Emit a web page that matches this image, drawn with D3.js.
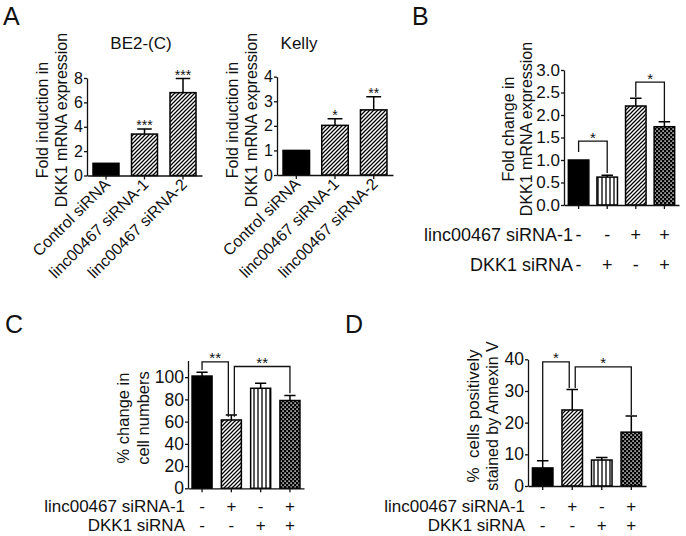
<!DOCTYPE html>
<html><head><meta charset="utf-8">
<script src="https://cdn.jsdelivr.net/npm/d3@7"></script>
<style>
html,body{margin:0;padding:0;background:#fff;}
svg{display:block;}
text{font-family:'Liberation Sans', Arial, Helvetica, sans-serif; fill:#111;}
</style></head><body>
<svg id="chart" width="686" height="536"></svg>
<script>
// ---------- data ----------
const aCategories = ["Control siRNA", "linc00467 siRNA-1", "linc00467 siRNA-2"];
const be2Values = [1.0, 3.4, 6.8];
const be2Errors = [0, 0.42, 1.15];
const be2Stars = ["", "***", "***"];
const be2Ticks = [0, 2, 4, 6, 8];

const kellyValues = [1.0, 2.02, 2.65];
const kellyErrors = [0, 0.27, 0.53];
const kellyStars = ["", "*", "**"];
const kellyTicks = [0, 1, 2, 3, 4];
const aFills = ["solid", "diagonal", "diagonal"];

const bValues = [1.0, 0.62, 2.2, 1.74];
const bErrors = [0, 0.04, 0.17, 0.11];
const bTicks = [0, 0.5, 1, 1.5, 2, 2.5, 3];
const bLinc = ["-", "-", "+", "+"];
const bDkk1 = ["-", "+", "-", "+"];
const bFills = ["solid", "vertical", "diagonal", "dotted"];
// [from, to, bracket level, left leg end, right leg end, label]
const bBrackets = [[0, 1, 1.42, 1.18, 0.71, "*"], [2, 3, 2.73, 2.40, 1.85, "*"]];

const cValues = [101, 61.5, 90, 79];
const cErrors = [3.5, 4.5, 4.5, 4.5];
const cTicks = [0, 20, 40, 60, 80, 100];
const cdLinc = ["-", "+", "-", "+"];
const cdDkk1 = ["-", "-", "+", "+"];
const cdFills = ["solid", "diagonal", "vertical", "dotted"];
const cBrackets = [[0, 1, 113.7, 106.5, 64.4, "**"], [1, 3, 109.6, 64.4, 85.5, "**"]];

const dValues = [5.7, 24, 8.2, 17];
const dErrors = [2.3, 6.5, 0.8, 5.1];
const dTicks = [0, 10, 20, 30, 40];
const dBrackets = [[0, 1, 39.2, 8.2, 30.9, "*"], [1, 3, 37.6, 30.9, 22.4, "*"]];

// ---------- setup ----------
const svg = d3.select("#chart");
const FONT = "'Liberation Sans', Arial, Helvetica, sans-serif";
const INK = "#111";
const defs = svg.append("defs");

const pDiag = defs.append("pattern").attr("id", "diagonal").attr("patternUnits", "userSpaceOnUse")
  .attr("width", 4).attr("height", 4);
pDiag.append("rect").attr("width", 4).attr("height", 4).attr("fill", "#fff");
pDiag.append("path").attr("d", "M-1,1 l2,-2 M0,4 l4,-4 M3,5 l2,-2")
  .attr("stroke", "#000").attr("stroke-width", 1.25);

const pVert = defs.append("pattern").attr("id", "vertical").attr("patternUnits", "userSpaceOnUse")
  .attr("width", 4).attr("height", 4);
pVert.append("rect").attr("width", 4).attr("height", 4).attr("fill", "#fff");
pVert.append("path").attr("d", "M2,0 V4").attr("stroke", "#000").attr("stroke-width", 1.3);

const pDot = defs.append("pattern").attr("id", "dotted").attr("patternUnits", "userSpaceOnUse")
  .attr("width", 4).attr("height", 4);
pDot.append("rect").attr("width", 4).attr("height", 4).attr("fill", "#000");
pDot.append("rect").attr("x", 0.4).attr("y", 0.4).attr("width", 1.4).attr("height", 1.4).attr("fill", "#fff");
pDot.append("rect").attr("x", 2.4).attr("y", 2.4).attr("width", 1.4).attr("height", 1.4).attr("fill", "#fff");

function fillFor(k) { return k === "solid" ? "#000" : `url(#${k})`; }

function panel(cfg) {
  const g = svg.append("g");
  const n = cfg.values.length;
  const x = d3.scaleBand().domain(d3.range(n)).range([cfg.x0, cfg.x1])
    .paddingInner(cfg.pi).paddingOuter(cfg.po);
  const y = d3.scaleLinear().domain([0, cfg.max]).range([cfg.yb, cfg.yt]);
  const cx = i => x(i) + x.bandwidth() / 2;

  // error bars (upper only)
  const eg = g.append("g").attr("stroke", "#000").attr("stroke-width", 1.5);
  cfg.values.forEach((v, i) => {
    const e = cfg.errors[i];
    if (!e) return;
    const cw = x.bandwidth() * 0.28;
    eg.append("path").attr("fill", "none")
      .attr("d", `M${cx(i)},${y(v)}V${y(v + e)}M${cx(i) - cw},${y(v + e)}H${cx(i) + cw}`);
  });

  // bars
  g.selectAll("rect.bar").data(cfg.values).join("rect").attr("class", "bar")
    .attr("x", (d, i) => x(i)).attr("y", d => y(d))
    .attr("width", x.bandwidth()).attr("height", d => y(0) - y(d))
    .attr("fill", (d, i) => fillFor(cfg.fills[i]))
    .attr("stroke", "#000").attr("stroke-width", 1.5);

  // y axis
  const ya = g.append("g").attr("transform", `translate(${cfg.x0},0)`)
    .call(d3.axisLeft(y).tickValues(cfg.ticks).tickSize(3).tickSizeOuter(0).tickPadding(1)
      .tickFormat(cfg.fmt || d3.format("d")));
  ya.attr("font-size", cfg.tickSize).attr("font-family", FONT);
  ya.selectAll("text").attr("fill", INK);
  ya.selectAll("path,line").attr("stroke", INK).attr("stroke-width", 1.3);

  // x axis
  const xa = g.append("g").attr("transform", `translate(0,${cfg.yb})`)
    .call(d3.axisBottom(x).tickSize(4).tickSizeOuter(0).tickFormat(""));
  xa.selectAll("path,line").attr("stroke", INK).attr("stroke-width", 1.3);

  // stars over bars
  if (cfg.stars) {
    cfg.stars.forEach((s, i) => {
      if (!s) return;
      g.append("text").attr("x", cx(i)).attr("y", y(cfg.values[i] + cfg.errors[i]) + 1)
        .attr("text-anchor", "middle").attr("font-size", 14).text(s);
    });
  }

  // brackets
  if (cfg.brackets) {
    const used = {};
    cfg.brackets.forEach(b => { used[b[0]] = (used[b[0]] || 0) + 1; used[b[1]] = (used[b[1]] || 0) + 1; });
    cfg.brackets.forEach(b => {
      const xl = cx(b[0]) + (used[b[0]] > 1 ? 3 : 0);
      const xr = cx(b[1]) - (used[b[1]] > 1 ? 3 : 0);
      g.append("path").attr("fill", "none").attr("stroke", INK).attr("stroke-width", 1.3)
        .attr("d", `M${xl},${y(b[3])}V${y(b[2])}H${xr}V${y(b[4])}`);
      g.append("text").attr("x", (xl + xr) / 2).attr("y", y(b[2]) + 1.5)
        .attr("text-anchor", "middle").attr("font-size", 15).text(b[5]);
    });
  }

  // rotated category labels
  if (cfg.cats) {
    cfg.cats.forEach((c, i) => {
      g.append("text").attr("transform", `translate(${cx(i) + 5},${cfg.yb + 10}) rotate(-45)`)
        .attr("text-anchor", "end").attr("font-size", cfg.catSize).text(c);
    });
  }

  // condition rows
  if (cfg.rows) {
    cfg.rows.forEach((r, k) => {
      g.append("text").attr("x", cfg.rowLabelX).attr("y", r.y).attr("dy", "0.35em")
        .attr("text-anchor", "end").attr("font-size", cfg.rowSize).text(r.label);
      r.signs.forEach((s, i) => {
        g.append("text").attr("x", cx(i)).attr("y", r.y).attr("dy", "0.35em")
          .attr("text-anchor", "middle").attr("font-size", cfg.rowSize).text(s);
      });
    });
  }

  // y label (two lines, rotated)
  cfg.ylab.forEach((t, k) => {
    g.append("text").attr("transform", `translate(${cfg.ylabX[k]},${cfg.ylabY}) rotate(-90)`)
      .attr("text-anchor", "middle").attr("dy", "0.35em")
      .attr("font-size", Array.isArray(cfg.ylabSize) ? cfg.ylabSize[k] : cfg.ylabSize)
      .attr("xml:space", "preserve").style("white-space", "pre").text(t);
  });

  if (cfg.title) {
    g.append("text").attr("x", cfg.title[1]).attr("y", cfg.title[2]).attr("text-anchor", "middle")
      .attr("font-size", 17).text(cfg.title[0]);
  }
}

// Panel A - BE2-(C)
panel({x0: 87, x1: 202, yb: 175.5, yt: 78, max: 8, pi: 0.325, po: 0.156,
  values: be2Values, errors: be2Errors, fills: aFills, ticks: be2Ticks, tickSize: 16,
  stars: be2Stars, cats: aCategories, catSize: 16,
  ylab: ["Fold induction in", "DKK1 mRNA expression"], ylabX: [42, 61], ylabY: 120, ylabSize: 16,
  title: ["BE2-(C)", 141, 49]});

// Panel A - Kelly
panel({x0: 277, x1: 393, yb: 175, yt: 76.7, max: 4, pi: 0.315, po: 0.156,
  values: kellyValues, errors: kellyErrors, fills: aFills, ticks: kellyTicks, tickSize: 16,
  stars: kellyStars, cats: aCategories, catSize: 16,
  ylab: ["Fold induction in", "DKK1 mRNA expression"], ylabX: [232, 251], ylabY: 120, ylabSize: 16,
  title: ["Kelly", 299, 49]});

// Panel B
panel({x0: 564, x1: 679, yb: 205, yt: 70, max: 3, pi: 0.283, po: 0.152,
  values: bValues, errors: bErrors, fills: bFills, ticks: bTicks, tickSize: 17, fmt: d3.format(".1f"),
  brackets: bBrackets,
  rows: [{label: "linc00467 siRNA-1", y: 235, signs: bLinc}, {label: "DKK1 siRNA", y: 265, signs: bDkk1}],
  rowLabelX: 573, rowSize: 18,
  ylab: ["Fold change in", "DKK1 mRNA expression"], ylabX: [508, 526], ylabY: 129, ylabSize: 16});

// Panel C
panel({x0: 188, x1: 304, yb: 488.3, yt: 360.5, max: 115, pi: 0.317, po: 0.138,
  values: cValues, errors: cErrors, fills: cdFills, ticks: cTicks, tickSize: 17.5,
  brackets: cBrackets,
  rows: [{label: "linc00467 siRNA-1", y: 506, signs: cdLinc}, {label: "DKK1 siRNA", y: 525.5, signs: cdDkk1}],
  rowLabelX: 185, rowSize: 17,
  ylab: ["% change in", "cell numbers"], ylabX: [123, 143], ylabY: 418, ylabSize: 16.5});

// Panel D
panel({x0: 528, x1: 646, yb: 486, yt: 359.3, max: 40, pi: 0.305, po: 0.15,
  values: dValues, errors: dErrors, fills: cdFills, ticks: dTicks, tickSize: 17.5,
  brackets: dBrackets,
  rows: [{label: "linc00467 siRNA-1", y: 506, signs: cdLinc}, {label: "DKK1 siRNA", y: 525.5, signs: cdDkk1}],
  rowLabelX: 525, rowSize: 17,
  ylab: ["%  cells positively", "stained by Annexin V"], ylabX: [473, 492], ylabY: 416, ylabSize: [17, 16]});

// panel letters
const letters = [["A", 3, 25], ["B", 412, 25], ["C", 5, 333], ["D", 345, 333]];
svg.selectAll("text.letter").data(letters).join("text").attr("class", "letter")
  .attr("x", d => d[1]).attr("y", d => d[2])
  .attr("font-size", 25).text(d => d[0]);
</script>
</body></html>
